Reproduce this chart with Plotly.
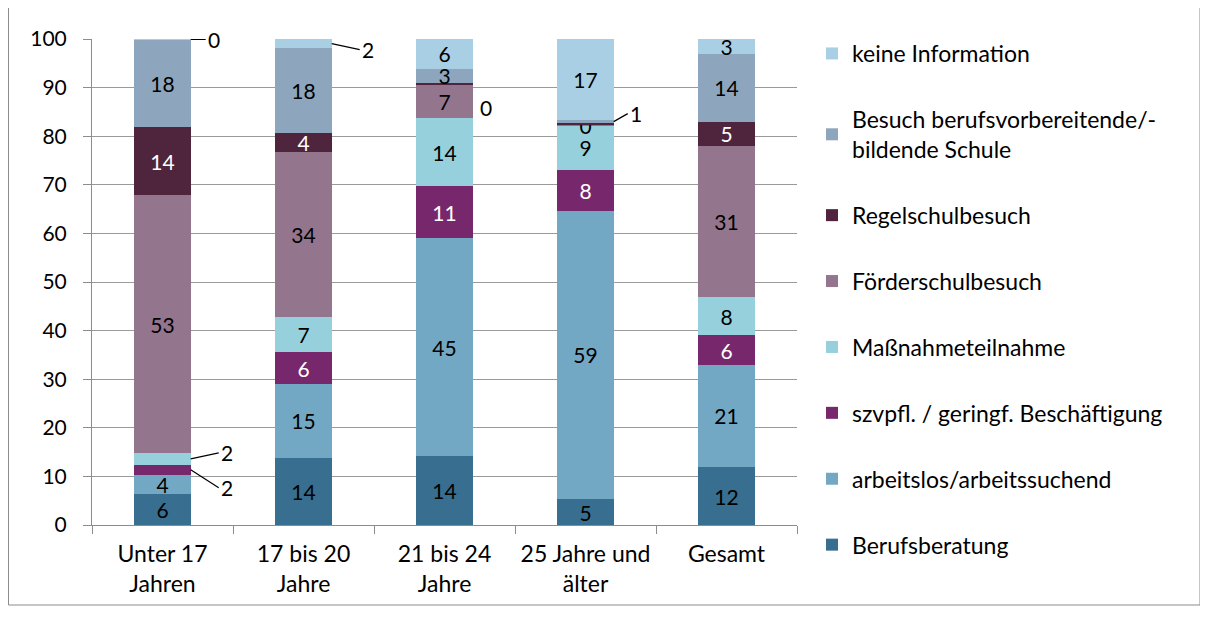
import plotly.graph_objects as go
import numpy as np

categories = ["Unter 17<br>Jahren", "17 bis 20<br>Jahre", "21 bis 24<br>Jahre", "25 Jahre und<br>älter", "Gesamt"]

series_names = [
    "Berufsberatung",
    "arbeitslos/arbeitssuchend",
    "szvpfl. / geringf. Beschäftigung",
    "Maßnahmeteilnahme",
    "Förderschulbesuch",
    "Regelschulbesuch",
    "Besuch berufsvorbereitende/-<br>bildende Schule",
    "keine Information",
]

berufsberatung = [6.4, 13.8, 14.2, 5.3, 11.9]
arbeitslos = [3.9, 15.2, 44.8, 59.4, 21.1]
szvpfl = [2.1, 6.5, 10.7, 8.4, 6.0]
massnahme = [2.4, 7.4, 14.0, 9.1, 8.0]
foerderschule = [53.0, 33.8, 6.9, 0.3, 31.0]
regelschule = [14.0, 3.9, 0.3, 0.2, 5.0]
besuch = [18.0, 17.6, 3.0, 0.6, 14.0]
keine_info = [0.2, 1.7, 6.1, 16.7, 3.0]

values = [berufsberatung, arbeitslos, szvpfl, massnahme, foerderschule, regelschule, besuch, keine_info]

colors = ["#386E8F", "#72A8C4", "#77286D", "#96D0DC", "#93758D", "#4F243D", "#8DA6BD", "#A8CFE3"]
text_colors = ["black", "black", "white", "black", "black", "white", "black", "black"]

# labels drawn outside with leader lines: (series index, category index, ax, ay)
outside = [
    (7, 0, 15, 0),
    (3, 0, 28, -6),
    (2, 0, 28, 18),
    (7, 1, 28, 6),
    (6, 3, 14, -8),
]
plain_outside = [(5, 2)]
hidden = [(5, 3)]

skip = set((s, c) for s, c, _, _ in outside) | set(plain_outside) | set(hidden)

FONT = "Lato, Calibri, Carlito, sans-serif"
NUM_SIZE = 21
TXT_SIZE = 23

fig = go.Figure()
for si, (name, vals) in enumerate(zip(series_names, values)):
    texts = ["" if (si, ci) in skip else str(int(round(v))) for ci, v in enumerate(vals)]
    fig.add_trace(go.Bar(
        name=name,
        x=categories,
        y=vals,
        marker=dict(color=colors[si], line=dict(width=0)),
        text=texts,
        textposition="inside",
        insidetextanchor="middle",
        textangle=0,
        textfont=dict(color=text_colors[si], size=NUM_SIZE, family=FONT),
        legendgroup=str(si),
        legendrank=len(series_names) - si,
        hoverinfo="skip",
    ))

cum = np.cumsum(np.array(values), axis=0)

annotations = []
for s, c, ax, ay in outside:
    top = cum[s][c]
    mid = top - values[s][c] / 2
    annotations.append(dict(
        x=c + 0.2, y=mid, xref="x", yref="y",
        text=str(int(round(values[s][c]))),
        showarrow=True, arrowhead=0, arrowwidth=1.2, arrowcolor="black",
        ax=ax, ay=ay, xanchor="left", yanchor="middle",
        font=dict(size=NUM_SIZE, family=FONT, color="black"),
        standoff=0,
    ))
for s, c in plain_outside:
    top = cum[s][c]
    annotations.append(dict(
        x=c + 0.24, y=top - 5.0, xref="x", yref="y",
        text=str(int(round(values[s][c]))),
        showarrow=False, xanchor="left", yanchor="middle",
        font=dict(size=NUM_SIZE, family=FONT, color="black"),
    ))

W, H = 1208, 621
L, R, T, B = 84, 789, 31, 517
pw, ph = R - L, B - T

def px2paper_x(px):
    return (px - L) / pw

def px2paper_y(py):
    return (B - py) / ph

border = dict(color="#8C8C8C", width=1)
shapes = [
    dict(type="line", xref="paper", yref="paper",
         x0=px2paper_x(0.5), x1=px2paper_x(0.5), y0=px2paper_y(-10), y1=px2paper_y(597), line=border),
    dict(type="line", xref="paper", yref="paper",
         x0=px2paper_x(0.5), x1=px2paper_x(1192), y0=px2paper_y(597), y1=px2paper_y(597), line=border),
    dict(type="line", xref="paper", yref="paper",
         x0=px2paper_x(1192), x1=px2paper_x(1192), y0=px2paper_y(-10), y1=px2paper_y(597), line=border),
]

fig.update_layout(
    width=W, height=H,
    barmode="stack",
    bargap=0.6,
    plot_bgcolor="white",
    paper_bgcolor="white",
    margin=dict(l=L, r=W - R, t=T, b=H - B, pad=0, autoexpand=False),
    font=dict(family=FONT, size=NUM_SIZE, color="black"),
    uniformtext=dict(minsize=NUM_SIZE, mode="show"),
    showlegend=True,
    legend=dict(
        x=px2paper_x(804), y=px2paper_y(24), xanchor="left", yanchor="top",
        traceorder="grouped",
        tracegroupgap=33,
        font=dict(size=TXT_SIZE, family=FONT),
        itemclick=False,
        bgcolor="rgba(0,0,0,0)",
        maxheight=600,
    ),
    annotations=annotations,
    shapes=shapes,
)

fig.update_xaxes(
    type="category",
    showline=True, linecolor="#8C8C8C", linewidth=1,
    ticks="outside", tickson="boundaries", ticklen=8, tickcolor="#8C8C8C",
    showgrid=False,
    tickangle=0,
    automargin=False,
    ticklabelstandoff=8,
    tickfont=dict(size=TXT_SIZE, family=FONT),
)
fig.update_yaxes(
    range=[0, 100], dtick=10,
    showline=True, linecolor="#8C8C8C", linewidth=1,
    ticks="outside", ticklen=8, tickcolor="#8C8C8C",
    showgrid=True, gridcolor="#9A9A9A", gridwidth=1,
    zeroline=False,
    automargin=False,
    tickfont=dict(size=NUM_SIZE, family=FONT),
    ticklabelstandoff=12,
)

fig.write_html("out.html")
